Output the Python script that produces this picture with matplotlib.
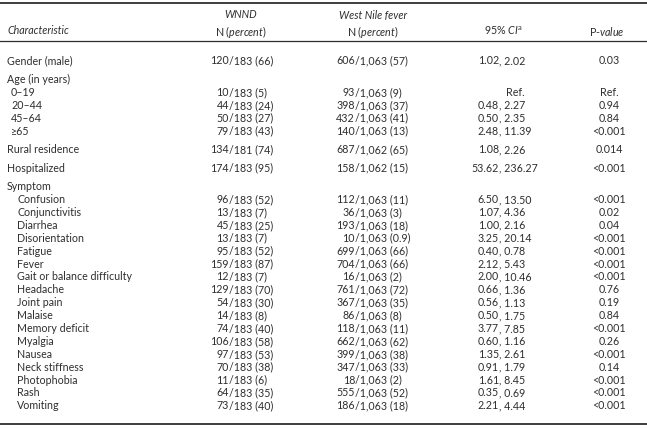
import matplotlib.pyplot as plt

plt.rcParams['font.family'] = ['Lato', 'DejaVu Sans']
plt.rcParams['mathtext.fontset'] = 'custom'
plt.rcParams['mathtext.rm'] = 'Lato'
plt.rcParams['mathtext.it'] = 'Lato:italic'

# table content
characteristics = ["Gender (male)", "Age (in years)", "0\u201319", "20\u201344", "45\u201364", "\u226565",
                   "Rural residence", "Hospitalized", "Symptom",
                   "Confusion", "Conjunctivitis", "Diarrhea", "Disorientation", "Fatigue", "Fever",
                   "Gait or balance difficulty", "Headache", "Joint pain", "Malaise", "Memory deficit",
                   "Myalgia", "Nausea", "Neck stiffness", "Photophobia", "Rash", "Vomiting"]
level = [0, 0, 1, 1, 1, 1, 0, 0, 0] + [2] * 17
new_group = [1, 1, 0, 0, 0, 0, 1, 1, 1] + [0] * 17

wnnd = ["120/183 (66)", "", "10/183 (5)", "44/183 (24)", "50/183 (27)", "79/183 (43)",
        "134/181 (74)", "174/183 (95)", "",
        "96/183 (52)", "13/183 (7)", "45/183 (25)", "13/183 (7)", "95/183 (52)", "159/183 (87)",
        "12/183 (7)", "129/183 (70)", "54/183 (30)", "14/183 (8)", "74/183 (40)",
        "106/183 (58)", "97/183 (53)", "70/183 (38)", "11/183 (6)", "64/183 (35)", "73/183 (40)"]
wnf = ["606/1,063 (57)", "", "93/1,063 (9)", "398/1,063 (37)", "432/1,063 (41)", "140/1,063 (13)",
       "687/1,062 (65)", "158/1,062 (15)", "",
       "112/1,063 (11)", "36/1,063 (3)", "193/1,063 (18)", "10/1,063 (0.9)", "699/1,063 (66)",
       "704/1,063 (66)", "16/1,063 (2)", "761/1,063 (72)", "367/1,063 (35)", "86/1,063 (8)",
       "118/1,063 (11)", "662/1,063 (62)", "399/1,063 (38)", "347/1,063 (33)", "18/1,063 (2)",
       "555/1,063 (52)", "186/1,063 (18)"]
ci = ["1.02, 2.02", "", "Ref.", "0.48, 2.27", "0.50, 2.35", "2.48, 11.39",
      "1.08, 2.26", "53.62, 236.27", "",
      "6.50, 13.50", "1.07, 4.36", "1.00, 2.16", "3.25, 20.14", "0.40, 0.78", "2.12, 5.43",
      "2.00, 10.46", "0.66, 1.36", "0.56, 1.13", "0.50, 1.75", "3.77, 7.85",
      "0.60, 1.16", "1.35, 2.61", "0.91, 1.79", "1.61, 8.45", "0.35, 0.69", "2.21, 4.44"]
pval = ["0.03", "", "Ref.", "0.94", "0.84", "<0.001",
        "0.014", "<0.001", "",
        "<0.001", "0.02", "0.04", "<0.001", "<0.001", "<0.001",
        "<0.001", "0.76", "0.19", "0.84", "<0.001",
        "0.26", "<0.001", "0.14", "<0.001", "<0.001", "<0.001"]

W, H = 647, 429
fig = plt.figure(figsize=(W / 100, H / 100), dpi=100)
ax = fig.add_axes([0, 0, 1, 1])
ax.set_xlim(0, W)
ax.set_ylim(H, 0)
ax.axis('off')

col = '#2e2e2e'
fs = 7.7
kw = dict(fontsize=fs, color=col, va='center_baseline')

# rules
ax.axhline(3, color=col, lw=1.3)
ax.axhline(41, color=col, lw=0.9)
ax.axhline(424, color=col, lw=1.3)

# header
ax.text(7, 30, "Characteristic", style='italic', ha='left', **kw)
ax.text(241, 14, "WNND", style='italic', ha='center', **kw)
ax.text(241, 30, r"N $\mathit{(percent)}$", ha='center', **kw)
ax.text(373, 14, "West Nile fever", style='italic', ha='center', **kw)
ax.text(373, 30, r"N $\mathit{(percent)}$", ha='center', **kw)
ax.text(504, 30, r"95% $\mathit{CI}^{\mathrm{a}}$", ha='center', **kw)
ax.text(607, 30, r"P-$\mathit{value}$", ha='center', **kw)

# body
step, gap = 12.9, 5.6
indent_x = [7, 11, 17]
x_wnnd, x_wnf, x_ci, x_p = 229, 355, 499, 609
y = 60
for i, name in enumerate(characteristics):
    if i > 0:
        y += step + (gap if new_group[i] else 0)
    ax.text(indent_x[level[i]], y, name, ha='left', **kw)
    for s, xs in ((wnnd[i], x_wnnd), (wnf[i], x_wnf)):
        if s:
            a, b = s.split('/', 1)
            ax.text(xs, y, a, ha='right', **kw)
            ax.text(xs, y, '/' + b, ha='left', **kw)
    if ci[i] == "Ref.":
        ax.text(x_ci + 7, y, "Ref.", ha='left', **kw)
    elif ci[i]:
        a, b = ci[i].split(',', 1)
        ax.text(x_ci, y, a, ha='right', **kw)
        ax.text(x_ci, y, ',' + b, ha='left', **kw)
    if pval[i]:
        ax.text(x_p, y, pval[i], ha='center', **kw)

fig.savefig('out.png', dpi=100)
